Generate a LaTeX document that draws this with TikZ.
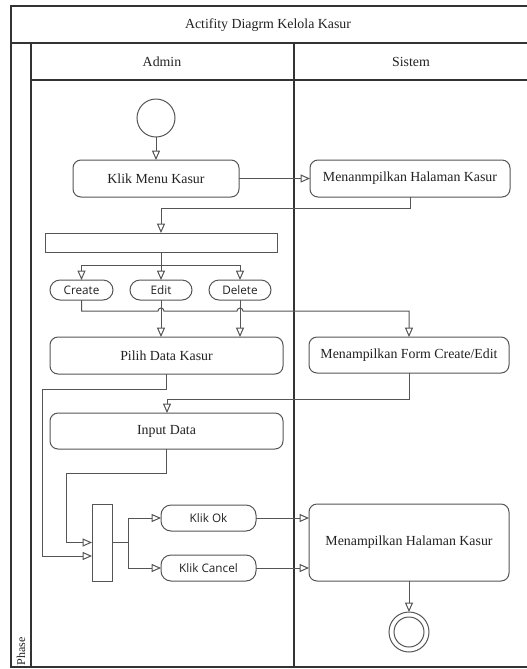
\documentclass[tikz,border=0pt]{standalone}
\usepackage{fontspec}
\setmainfont{Liberation Serif}
\newfontfamily\uisans{Open Sans}
\usetikzlibrary{arrows.meta,calc}
\definecolor{laneline}{HTML}{333333}
\definecolor{nodeline}{HTML}{555555}
\definecolor{ink}{HTML}{222222}
\begin{document}
\begin{tikzpicture}[x=0.75pt,y=-0.75pt,
  sz/.style 2 args={minimum width=#1*0.75pt,minimum height=#2*0.75pt,inner sep=0pt,outer sep=0pt},
  lane/.style={draw=laneline,line width=0.9pt},
  act/.style={draw=nodeline,line width=0.75pt,rounded corners=6pt,fill=white,text=ink,font=\fontsize{10.4pt}{12pt}\selectfont},
  pill/.style={draw=nodeline,line width=0.75pt,rounded corners=7.5pt,fill=white,text=ink,font=\uisans\fontsize{8.8pt}{10pt}\selectfont},
  bar/.style={draw=nodeline,line width=0.75pt,fill=white},
  flow/.style={draw=nodeline,line width=0.75pt,-{Triangle[open,length=7pt,width=6pt]}},
  plain/.style={draw=nodeline,line width=0.75pt}]
\useasboundingbox (0,0) rectangle (527,669);

% swimlane frame
\draw[lane] (527,6) -- (11,6) -- (11,667) -- (527,667);
\draw[lane] (11,43) -- (527,43);
\draw[lane] (31,43) -- (31,667);
\draw[lane] (31,80) -- (527,80);
\draw[lane] (294,43) -- (294,667);
\node[text=ink,font=\fontsize{10.4pt}{12pt}\selectfont] (title) at (268,25) {Actifity Diagrm Kelola Kasur};
\node[text=ink,font=\fontsize{10.4pt}{12pt}\selectfont] (admin) at (162,62) {Admin};
\node[text=ink,font=\fontsize{10.4pt}{12pt}\selectfont] (sistem) at (411,62) {Sistem};
\node[text=ink,font=\fontsize{9pt}{10pt}\selectfont,rotate=90] (phase) at (21,651) {Phase};

% activities
\node[draw=nodeline,line width=0.75pt,circle,sz={38}{38}] (start) at (156,118) {};
\node[act,sz={166}{37}] (klik) at (156,178.5) {Klik Menu Kasur};
\node[act,sz={200}{37}] (hal1) at (410,178.5) {Menanmpilkan Halaman Kasur};
\node[bar,sz={232}{19}] (fork) at (161,242.5) {};
\node[pill,sz={63}{20}] (create) at (81.5,290) {Create};
\node[pill,sz={62}{20}] (edit) at (161,290) {Edit};
\node[pill,sz={62}{20}] (delete) at (240,290) {Delete};
\node[act,sz={233}{37}] (pilih) at (166.5,355.5) {Pilih Data Kasur};
\node[act,sz={200}{36}] (form) at (409,355) {Menampilkan Form Create/Edit};
\node[act,sz={233}{36}] (input) at (166.5,431) {Input Data};
\node[bar,sz={20}{77}] (join) at (102,542.5) {};
\node[pill,sz={95}{26}] (ok) at (208.5,518) {Klik Ok};
\node[pill,sz={95}{26}] (cancel) at (208.5,568) {Klik Cancel};
\node[act,sz={200}{77}] (hal2) at (409,542.5) {Menampilkan Halaman Kasur};
\node[draw=nodeline,line width=0.75pt,circle,sz={40}{40}] (end) at (409,632) {};
\node[draw=nodeline,line width=0.75pt,circle,sz={30}{30}] (endin) at (end.center) {};

% bend points
\coordinate (c1) at (161,208);
\coordinate (c2) at (161,265);
\coordinate (c3) at (167,399);
\coordinate (c4) at (42,389);
\coordinate (c5) at (66,473);
\coordinate (c6) at (128,542.5);
\coordinate (c7) at (81.5,311);
\coordinate (j1) at (158,311);
\coordinate (j2) at (237,311);
\coordinate (c8) at (409,311);
\coordinate (jin) at ($(join.west)+(0,13.5)$);

% flows
\draw[flow] (start) -- (klik);
\draw[flow] (klik) -- (hal1);
\draw[flow] (hal1.south) |- (c1) -- (fork.north);
\draw[plain] (fork.south) -- (c2);
\draw[flow] (c2) -| (create.north);
\draw[flow] (c2) -- (edit.north);
\draw[flow] (c2) -| (delete.north);
\draw[flow] (create.south) -- (c7) -- (j1) arc (180:360:3) -- (j2) arc (180:360:3) -- (c8) -- (form.north);
\draw[flow] (edit.south) -- (edit.south |- pilih.north);
\draw[flow] (delete.south) -- (delete.south |- pilih.north);
\draw[flow] (form.south) |- (c3) -- (c3 |- input.north);
\draw[flow] (pilih.south) |- (c4) |- (jin);
\draw[flow] (input.south) |- (c5) |- (join.west);
\draw[plain] (join.east) -- (c6);
\draw[flow] (c6) |- (ok.west);
\draw[flow] (c6) |- (cancel.west);
\draw[flow] (ok.east) -- (ok.east -| hal2.west);
\draw[flow] (cancel.east) -- (cancel.east -| hal2.west);
\draw[flow] (hal2.south) -- (end.north);
\end{tikzpicture}
\end{document}
